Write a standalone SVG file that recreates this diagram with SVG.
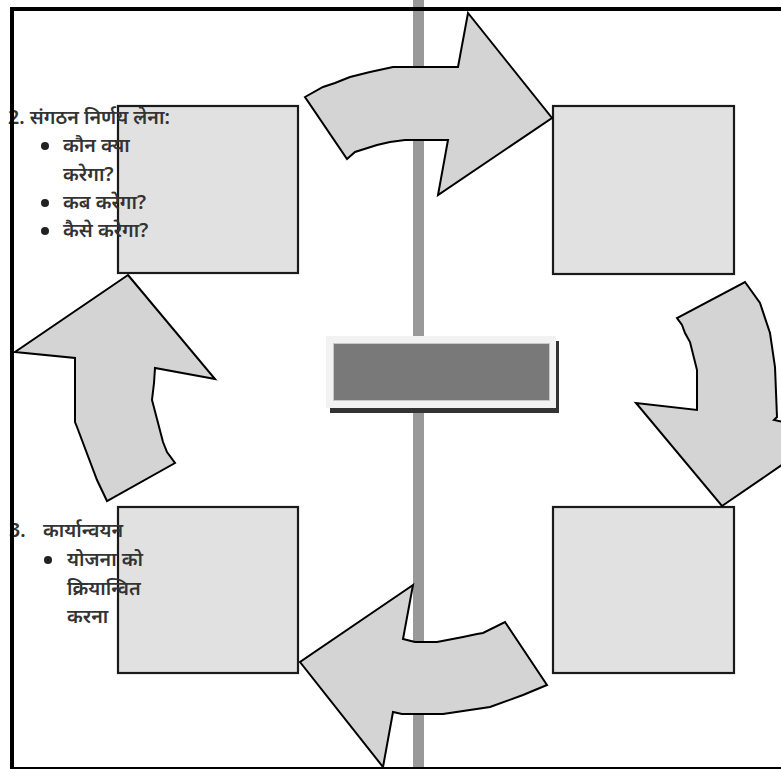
<svg xmlns="http://www.w3.org/2000/svg" width="781" height="769" viewBox="0 0 781 769">
<style>
.box{fill:#e1e1e1;stroke:#1a1a1a;stroke-width:2.2}
.arr{fill:#d4d4d4;stroke:#000;stroke-width:2;stroke-linejoin:miter}
.t{font-family:"Noto Sans","Noto Sans Devanagari","DejaVu Sans",sans-serif;font-size:19.6px;fill:#333;font-weight:600}
.b{fill:#222}
</style>
<rect width="781" height="769" fill="#fff"/>
<rect x="413" y="0" width="11" height="769" fill="#999"/>
<g id="node-box-tl"><rect class="box" x="118" y="106" width="180" height="167"/></g>
<g id="node-box-tr"><rect class="box" x="553" y="106" width="181" height="168"/></g>
<g id="node-box-br"><rect class="box" x="553" y="507" width="181" height="166"/></g>
<g id="node-box-bl"><rect class="box" x="118" y="507" width="180" height="166"/></g>
<g id="node-center">
<rect x="330" y="341" width="229" height="72" fill="#333"/>
<rect x="326" y="336" width="230" height="72" fill="#f2f2f2"/>
<rect x="333.5" y="343.5" width="216" height="57" fill="#797979" stroke="#c8c8c8" stroke-width="1"/>
</g>
<g id="connectors">
<polygon class="arr" points="305,97 323,87 335,83 350,77 370,72 393,67 458,67 468,13 552,118 438,195 448,140 405,140 390,142 377,145 355,152 347,159"/>
<polygon class="arr" points="745,282 760,303 770,333 775,367 777,417 774,420 830,432 722,506 636,403 697,410 697,370 690,342 685,333 682,325 677,318"/>
<polygon class="arr" points="413,585 300,662 383,767 393,712 402,714 443,714 490,707 523,695 547,685 505,622 483,633 477,634 463,637 437,642 415,642 403,639"/>
<polygon class="arr" points="128,275 215,379 155,368 154,383 152,400 163,442 167,452 175,463 107,501 97,480 77,427 75,422 75,358 15,352"/>
</g>
<g id="text-tl">
<text class="t" x="8" y="124">2. संगठन निर्णय लेना:</text>
<circle class="b" cx="45" cy="146" r="4"/>
<text class="t" x="63" y="152">कौन क्या</text>
<text class="t" x="63" y="181">करेगा?</text>
<circle class="b" cx="45" cy="203" r="4"/>
<text class="t" x="63" y="209">कब करेगा?</text>
<circle class="b" cx="45" cy="231" r="4"/>
<text class="t" x="63" y="237">कैसे करेगा?</text>
</g>
<g id="text-bl">
<text class="t" x="9" y="537">3.</text>
<text class="t" x="43" y="537">कार्यान्वयन</text>
<circle class="b" cx="48" cy="560" r="4"/>
<text class="t" x="67" y="566">योजना को</text>
<text class="t" x="67" y="595">क्रियान्वित</text>
<text class="t" x="67" y="623">करना</text>
</g>
<rect x="12" y="9" width="800" height="760" fill="none" stroke="#000" stroke-width="4"/>
</svg>
